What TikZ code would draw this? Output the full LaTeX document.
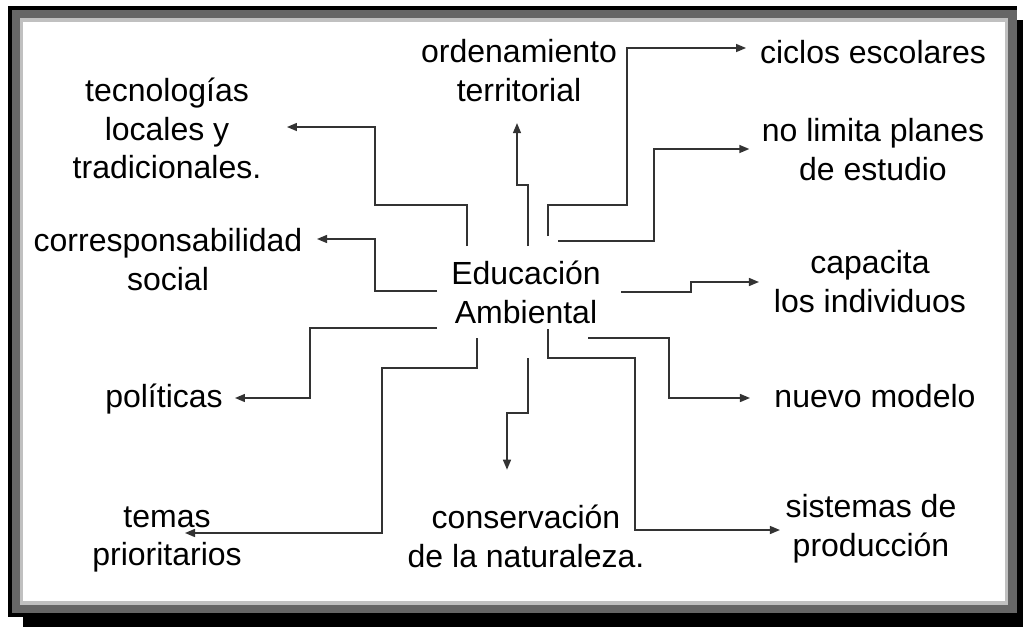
\documentclass[tikz,border=0pt]{standalone}
\usepackage{fontspec}
\setmainfont{Liberation Sans}
\usetikzlibrary{arrows.meta,positioning}
\definecolor{frdark}{HTML}{666666}
\definecolor{frlight}{HTML}{C0C0C0}
\newcommand{\lblfont}{\fontsize{32pt}{38.5pt}\selectfont}
\tikzset{
  lbl/.style  ={align=center,inner sep=0pt,outer sep=0pt,font=\lblfont,
                execute at begin node=\strut,execute at end node=\strut},
  link/.style ={-{Triangle[length=10pt,width=8pt]},line width=1.4pt,draw=black!80},
}

\begin{document}
\begin{tikzpicture}[x=1pt,y=-1pt]
\useasboundingbox (0,0) rectangle (1023,627);
% Frame with shadow
\fill[black]   (23,20) rectangle (1023,627);
\fill[black]   (8,6) rectangle (1017,617);
\fill[frdark]  (12,10) rectangle (1017,613);
\fill[frlight] (20,18) rectangle (1008,605);
\fill[white]   (23,22) rectangle (1005,601);
% Centre
\node[lbl] (EA)  at (526,298) {Educación\\Ambiental};
% Left column
\node[lbl] (tec) at (167,134.3) {tecnologías\\locales y\\tradicionales.};
\node[lbl] (cor) at (168,265)   {corresponsabilidad\\social};
\node[lbl] (pol) at (164,399.5) {políticas};
\node[lbl] (tem) at (167,542)   {temas\\prioritarios};
% Top and bottom
\node[lbl] (ord) at (519,76)    {ordenamiento\\territorial};
\node[lbl] (con) at (526,542)   {conservación\\de la naturaleza.};
% Right column
\node[lbl] (cic) at (873,55.8)  {ciclos escolares};
\node[lbl] (nol) at (873,155)   {no limita planes\\de estudio};
\node[lbl] (cap) at (870,287)   {capacita\\los individuos};
\node[lbl] (nue) at (875,399.5) {nuevo modelo};
\node[lbl] (sis) at (871,531)   {sistemas de\\producción};
% Free ends round the centre
\coordinate (s1)  at (467,246);
\coordinate (s2)  at (437,291);
\coordinate (s3)  at (528,246);
\coordinate (s4)  at (548,236);
\coordinate (s5)  at (558,241);
\coordinate (s6)  at (621,292);
\coordinate (s7)  at (588,338);
\coordinate (s8)  at (548,329);
\coordinate (s9)  at (528,358);
\coordinate (s10) at (477,338);
\coordinate (s11) at (437,328);
% Links
\draw[link,shorten >=25.7pt] (s1) |- (375,205) |- ([yshift=7.3pt]tec.east);
\draw[link,shorten >=14.7pt] (s2) -- (375,291) |- ([yshift=26pt]cor.east);
\draw[link,shorten >=12.3pt] (s11) -- (310,328) |- ([yshift=1.5pt]pol.east);
\draw[link] (s10) |- (382,368) |- ([xshift=18pt,yshift=9pt]tem.center);
\draw[link,shorten >=10.5pt] (s3) -- (528,185) -| ([xshift=-2pt]ord.south);
\draw[link,shorten >=35.5pt] (s9) -- (528,413) -| ([xshift=-19pt]con.north);
\draw[link,shorten >=14pt] (s4) |- (627,205) |- ([yshift=7.8pt]cic.west);
\draw[link,shorten >=12.5pt] (s5) -- (654,241) |- ([yshift=6pt]nol.west);
\draw[link,shorten >=15pt] (s6) -- (691,292) |- ([yshift=5pt]cap.west);
\draw[link,shorten >=24.5pt] (s7) -- (669,338) |- ([yshift=1.5pt]nue.west);
\draw[link,shorten >=5.7pt] (s8) |- (635,358) |- ([yshift=1pt]sis.west);
\end{tikzpicture}
\end{document}
